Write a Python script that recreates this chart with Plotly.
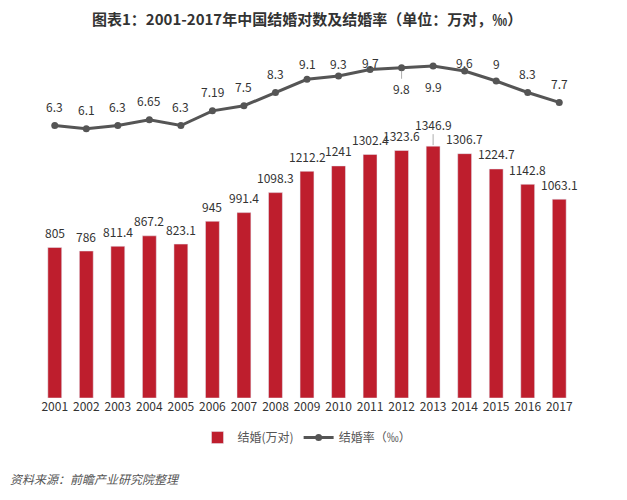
import plotly.graph_objects as go

years = [str(y) for y in range(2001, 2018)]
marriages = [805, 786, 811.4, 867.2, 823.1, 945, 991.4, 1098.3, 1212.2, 1241,
             1302.4, 1323.6, 1346.9, 1306.7, 1224.7, 1142.8, 1063.1]
rate = [6.3, 6.1, 6.3, 6.65, 6.3, 7.19, 7.5, 8.3, 9.1, 9.3, 9.7, 9.8, 9.9,
        9.6, 9, 8.3, 7.7]
bar_labels = ["805", "786", "811.4", "867.2", "823.1", "945", "991.4", "1098.3",
              "1212.2", "1241", "1302.4", "1323.6", "1346.9", "1306.7",
              "1224.7", "1142.8", "1063.1"]
rate_labels = ["6.3", "6.1", "6.3", "6.65", "6.3", "7.19", "7.5", "8.3", "9.1",
               "9.3", "9.7", "9.8", "9.9", "9.6", "9", "8.3", "7.7"]
below = {"2012", "2013"}
leader_bar = {"2013"}
leader_rate = {"2012"}

FONT = "Noto Sans CJK SC"
RED = "#BE1E2D"
GREY = "#555555"
TXT = "#333333"

idx = list(range(len(years)))

# layout geometry
W, H = 627, 500
mt, mb, ml, mr = 45, 102, 39, 52
plot_h = H - mt - mb
y1_max = plot_h / 0.187
y2_top, y2_bot = 11.18, -10.21
px_per_v = plot_h / (y2_top - y2_bot)

fig = go.Figure()
fig.add_trace(go.Bar(
    x=idx, y=marriages, name="结婚(万对)", marker_color=RED,
    yaxis="y", width=0.44))
fig.add_trace(go.Scatter(
    x=idx, y=rate, name="结婚率（‰）", mode="lines+markers",
    line=dict(color=GREY, width=3), marker=dict(color=GREY, size=7),
    yaxis="y2"))

annotations = []
for i, x, v, t in zip(idx, years, marriages, bar_labels):
    if x in leader_bar:
        annotations.append(dict(x=i, y=v, xref="x", yref="y", text=t,
                                showarrow=True, arrowhead=0, arrowwidth=0.8,
                                arrowcolor="#999999", ax=0, ay=-22, standoff=1,
                                font=dict(family=FONT, size=12, color=TXT)))
    else:
        annotations.append(dict(x=i, y=v, xref="x", yref="y", text=t,
                                showarrow=False, yanchor="middle", yshift=15,
                                font=dict(family=FONT, size=12, color=TXT)))

for i, x, v, t in zip(idx, years, rate, rate_labels):
    point_px = mt + (y2_top - v) * px_per_v
    if x in leader_rate:
        annotations.append(dict(x=i, y=v, xref="x", yref="y2", text=t,
                                showarrow=True, arrowhead=0, arrowwidth=0.8,
                                arrowcolor="#999999", ax=0, ay=21, standoff=3,
                                font=dict(family=FONT, size=12, color=TXT)))
        continue
    if x in below:
        shift = -20
    else:
        label_px = max(63, point_px - 19)
        shift = point_px - label_px
    annotations.append(dict(x=i, y=v, xref="x", yref="y2", text=t,
                            showarrow=False, yanchor="middle", yshift=shift,
                            font=dict(family=FONT, size=12, color=TXT)))

annotations.append(dict(x=0.5, y=1, xref="paper", yref="paper", xanchor="center",
                        yanchor="middle", yshift=27,
                        text="<b>图表1：2001-2017年中国结婚对数及结婚率（单位：万对，‰）</b>",
                        showarrow=False, font=dict(family=FONT, size=15, color=TXT)))
annotations.append(dict(x=0, y=0, xref="paper", yref="paper", xanchor="left",
                        yanchor="middle", xshift=-31, yshift=-80,
                        text="<i>资料来源：前瞻产业研究院整理</i>", showarrow=False,
                        font=dict(family=FONT, size=12, color="#555555")))

fig.update_layout(
    width=W, height=H,
    margin=dict(l=ml, r=mr, t=mt, b=mb),
    paper_bgcolor="white", plot_bgcolor="white",
    showlegend=True,
    legend=dict(orientation="h", x=0.5, xanchor="center", y=-0.112, yanchor="middle",
                font=dict(family=FONT, size=12, color="#555555")),
    xaxis=dict(range=[-0.5, len(years) - 0.5], tickmode="array", tickvals=idx,
               ticktext=years, showgrid=False, showline=False, zeroline=False,
               ticks="", tickfont=dict(family=FONT, size=12, color=TXT)),
    yaxis=dict(range=[0, y1_max], visible=False, showgrid=False),
    yaxis2=dict(range=[y2_bot, y2_top], overlaying="y", visible=False, showgrid=False),
    annotations=annotations,
)

fig.write_html("out.html")
